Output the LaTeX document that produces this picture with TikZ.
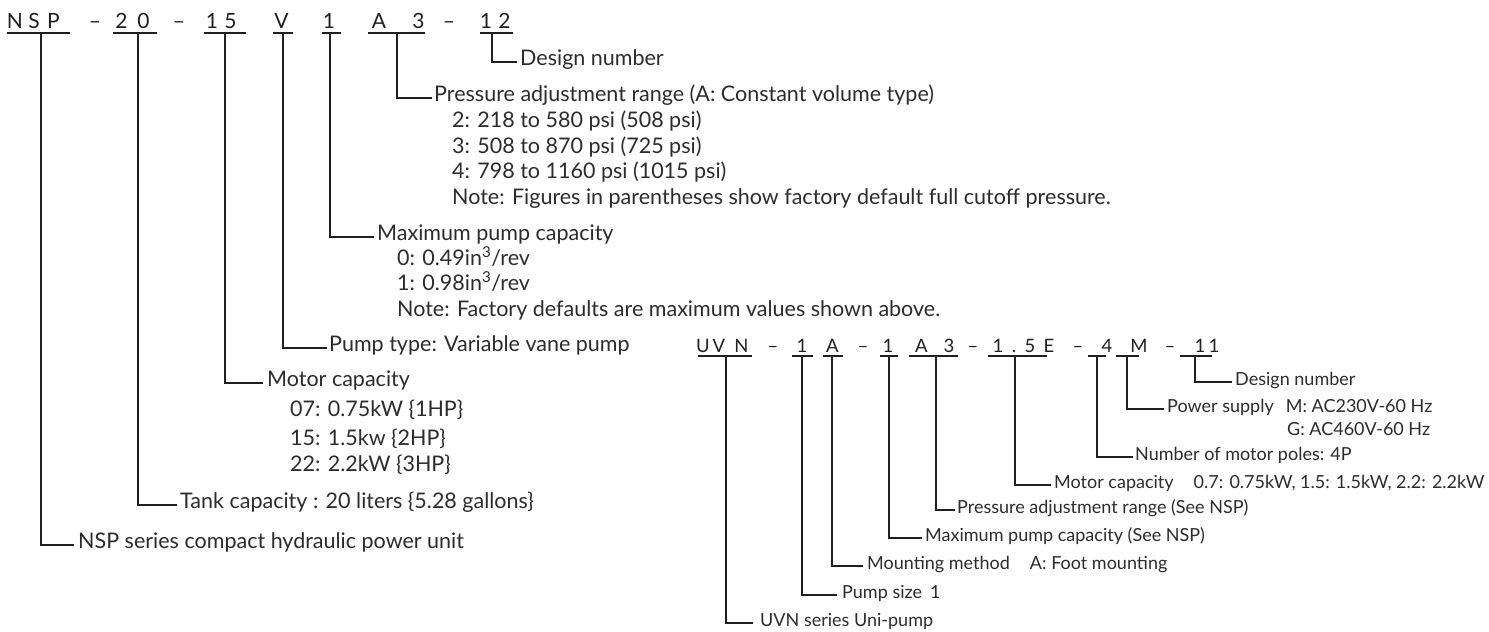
\documentclass[tikz,border=0pt]{standalone}
\usepackage{fontspec}
\setmainfont{Lato}
\definecolor{ink}{HTML}{231F20}
\definecolor{txt}{HTML}{2E2B2C}
\begin{document}
\begin{tikzpicture}[x=1pt,y=-1pt,
  hc/.style={font=\fontsize{21}{21}\selectfont, inner sep=0pt, anchor=base, text=ink},
  hu/.style={font=\fontsize{18.5}{18.5}\selectfont, inner sep=0pt, anchor=base, text=ink},
  lab/.style={font=\fontsize{21.5}{21.5}\selectfont, inner sep=0pt, anchor=west, text height=0.72em, text depth=0.02em, text=txt},
  labu/.style={font=\fontsize{18}{18}\selectfont, inner sep=0pt, anchor=west, text height=0.72em, text depth=0.02em, text=txt},
  sub/.style={lab},
  subu/.style={labu},
  uline/.style={draw=ink, line width=1.3pt},
  conn/.style={draw=ink, line width=1.6pt}]
\useasboundingbox (0,0) rectangle (1489,632);
% ---------- NSP header ----------
\foreach \c/\x in {N/15, S/34, P/53.5, --/95, 2/121.5, 0/143.5, --/179, 1/212, 5/230.5, V/281.5, 1/329, A/379, 3/418.5, --/449, 1/486, 2/504.5}
  \node[hc] at (\x,28) {\c};
\draw[uline] (7,33) -- (70,33);   \coordinate (cNSP) at (41,33);
\draw[uline] (113,33) -- (157,33); \coordinate (c20) at (138,33);
\draw[uline] (204,33) -- (246,33); \coordinate (c15) at (225,33);
\draw[uline] (273,33) -- (293,33); \coordinate (cV) at (283,33);
\draw[uline] (322,33) -- (341,33); \coordinate (c1) at (330,33);
\draw[uline] (368,33) -- (425,33); \coordinate (cA3) at (397,33);
\draw[uline] (480,33) -- (513,33); \coordinate (c12) at (492,33);
% ---------- NSP labels ----------
\node[lab] (lDes) at (520,62) {Design number};
\node[lab] (lPr) at (434,98) {Pressure adjustment range (A: Constant volume type)};
\node[sub] at (452,124) {2: 218 to 580 psi (508 psi)};
\node[sub] at (452,150) {3: 508 to 870 psi (725 psi)};
\node[sub] at (452,175) {4: 798 to 1160 psi (1015 psi)};
\node[sub] at (452,201) {Note: Figures in parentheses show factory default full cutoff pressure.};
\node[lab] (lMax) at (377,237) {Maximum pump capacity};
\node[sub] at (397,262) {0: 0.49in\textsuperscript{3}/rev};
\node[sub] at (397,287) {1: 0.98in\textsuperscript{3}/rev};
\node[sub] at (397,313) {Note: Factory defaults are maximum values shown above.};
\node[lab] (lPt) at (329,348) {Pump type: Variable vane pump};
\node[lab] (lMot) at (267,383) {Motor capacity};
\node[sub] at (290,413) {07: 0.75kW \{1HP\}};
\node[sub] at (290,442) {15: 1.5kw \{2HP\}};
\node[sub] at (290,468) {22: 2.2kW \{3HP\}};
\node[lab] (lTank) at (180,505) {Tank capacity : 20 liters \{5.28 gallons\}};
\node[lab] (lSer) at (78,545) {NSP series compact hydraulic power unit};
\draw[conn] (c12) |- ([xshift=-3pt]lDes.west);
\draw[conn] (cA3) |- ([xshift=-2pt]lPr.west);
\draw[conn] (c1) |- ([xshift=-3pt]lMax.west);
\draw[conn] (cV) |- ([xshift=-2pt]lPt.west);
\draw[conn] (c15) |- ([xshift=-4pt]lMot.west);
\draw[conn] (c20) |- ([xshift=-3pt]lTank.west);
\draw[conn] (cNSP) |- ([xshift=-4pt]lSer.west);
% ---------- UVN header ----------
\foreach \c/\x in {U/703, V/719, N/741.5, --/773, 1/802, A/832.5, --/863, 1/888, A/921.5, 3/949, --/973, 1/998, ./1014, 5/1030, E/1049, --/1078, 4/1107, M/1139, --/1170, 1/1200, 1/1214}
  \node[hu] at (\x,352) {\c};
\draw[uline] (698,356) -- (752,356);   \coordinate (uUVN) at (726,356);
\draw[uline] (792,356) -- (813,356);   \coordinate (uSz) at (802,356);
\draw[uline] (823,356) -- (843,356);   \coordinate (uMt) at (832,356);
\draw[uline] (880,356) -- (898,356);   \coordinate (uMx) at (889,356);
\draw[uline] (909,356) -- (958,356);   \coordinate (uPr) at (936,356);
\draw[uline] (988,356) -- (1047,356);  \coordinate (uMo) at (1015,356);
\draw[uline] (1088,356) -- (1106,356); \coordinate (uPo) at (1097,356);
\draw[uline] (1116,356) -- (1139,356); \coordinate (uPw) at (1127,356);
\draw[uline] (1180,356) -- (1212,356); \coordinate (uDs) at (1195,356);
% ---------- UVN labels ----------
\node[labu] (mDes) at (1235,382) {Design number};
\node[labu] (mPw) at (1167,409) {Power supply\hspace*{12pt}M: AC230V-60 Hz};
\node[subu] at (1287,432) {G: AC460V-60 Hz};
\node[labu] (mPo) at (1135,457) {Number of motor poles: 4P};
\node[labu] (mMo) at (1054,485) {Motor capacity\hspace*{20pt}0.7: 0.75kW, 1.5: 1.5kW, 2.2: 2.2kW};
\node[labu] (mPr) at (957,510) {Pressure adjustment range (See NSP)};
\node[labu] (mMx) at (925,538) {Maximum pump capacity (See NSP)};
\node[labu] (mMt) at (867,566) {Mounting method\hspace*{20pt}A: Foot mounting};
\node[labu] (mSz) at (842,595) {Pump size\hspace*{8pt}1};
\node[labu] (mUVN) at (760,623) {UVN series Uni-pump};
\draw[conn] (uDs) |- ([xshift=-3pt]mDes.west);
\draw[conn] (uPw) |- ([xshift=-3pt]mPw.west);
\draw[conn] (uPo) |- ([xshift=-2pt]mPo.west);
\draw[conn] (uMo) |- ([xshift=-3pt]mMo.west);
\draw[conn] (uPr) |- ([xshift=-2pt]mPr.west);
\draw[conn] (uMx) |- ([xshift=-3pt]mMx.west);
\draw[conn] (uMt) |- ([xshift=-4pt]mMt.west);
\draw[conn] (uSz) |- ([xshift=-5pt]mSz.west);
\draw[conn] (uUVN) |- ([xshift=-7pt]mUVN.west);
\end{tikzpicture}
\end{document}
